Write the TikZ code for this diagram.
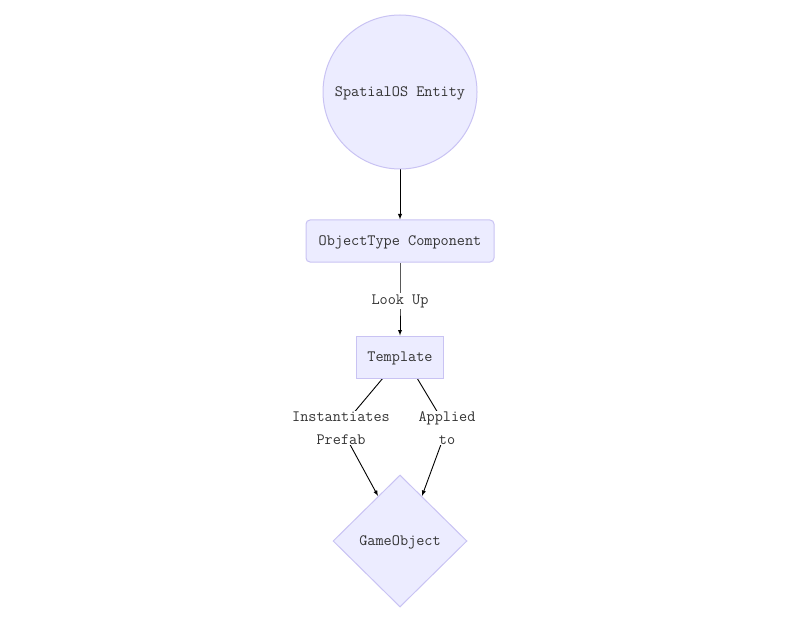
\documentclass[tikz,border=0pt]{standalone}
\usepackage{fontspec}
\usetikzlibrary{shapes.geometric, arrows, backgrounds}
\definecolor{nodefill}{HTML}{ECECFF}
\definecolor{nodeline}{HTML}{C9C3F3}
\definecolor{txtgray}{HTML}{333333}
\newcommand{\diafont}{\fontsize{15.8}{23}\selectfont\ttfamily}
\tikzset{
  flow/.style={draw=nodeline, fill=nodefill, text=txtgray, line width=1pt, font=\diafont, inner sep=0pt, text depth=0pt},
  edgelabel/.style={fill=white, text=txtgray, font=\diafont, align=center, inner sep=1pt},
  edge/.style={draw=black, line width=0.9pt, -latex}
}
\begin{document}
\begin{tikzpicture}[x=1pt, y=-1pt]
\useasboundingbox (0,0) rectangle (786,620);
\node[flow, circle, minimum size=154pt] (entity) at (400,92) {SpatialOS Entity};
\node[flow, rectangle, rounded corners=4pt, minimum width=188pt, minimum height=42pt] (objtype) at (400,241) {ObjectType Component};
\node[flow, rectangle, minimum width=87pt, minimum height=42pt] (template) at (400,357) {Template};
\node[flow, diamond, aspect=1, minimum width=134pt, minimum height=132pt] (gameobj) at (400,541) {GameObject};
% labels
\node[edgelabel] (lookup) at (400,301) {Look Up};
\node[edgelabel] (inst) at (341,428) {Instantiates\\Prefab};
\node[edgelabel] (applied) at (447,428) {Applied\\to};
\coordinate (tplL) at (383,378);
\coordinate (tplR) at (417,378);
\coordinate (goL) at (378,496);
\coordinate (goR) at (422,496);
\begin{scope}[on background layer]
\draw[edge] (entity) -- (objtype);
\draw[edge] (objtype) -- (lookup.center) -- (template);
\draw[edge] (tplL) -- (inst.center) -- (goL);
\draw[edge] (tplR) -- (applied.center) -- (goR);
\end{scope}
\end{tikzpicture}
\end{document}
